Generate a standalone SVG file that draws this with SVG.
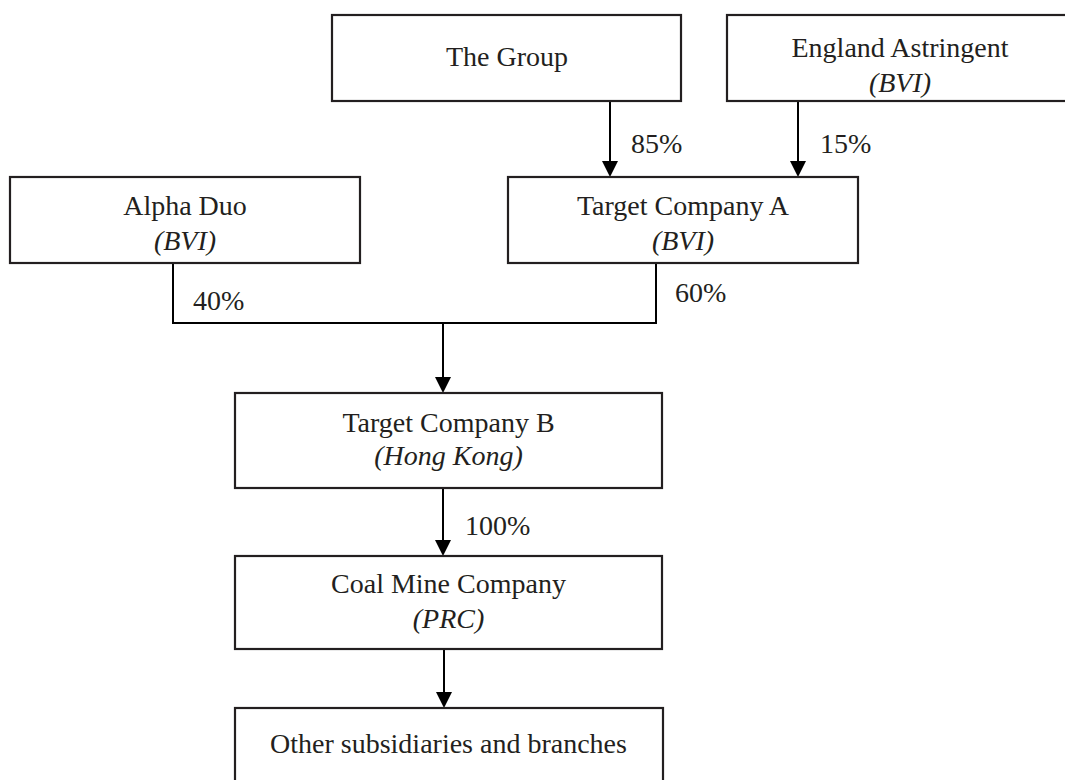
<svg xmlns="http://www.w3.org/2000/svg" width="1065" height="780" viewBox="0 0 1065 780">
<defs>
<style>
.box{fill:#fff;stroke:#231f20;stroke-width:2.2}
.t{font-family:"Liberation Serif","Times New Roman",serif;font-size:28px;fill:#231f20;text-anchor:middle}
.i{font-style:italic}
.l{font-family:"Liberation Serif","Times New Roman",serif;font-size:28px;fill:#231f20}
.c{fill:none;stroke:#000;stroke-width:2}
</style>
<marker id="ah" markerUnits="userSpaceOnUse" markerWidth="16" markerHeight="16" viewBox="0 0 16 16" refX="8" refY="16" orient="auto-start-reverse">
<path d="M0,0 L16,0 L8,16 Z" fill="#000"/>
</marker>
</defs>
<rect width="1065" height="780" fill="#fff"/>
<g id="connectors">
<line class="c" x1="610" y1="101" x2="610" y2="161"/>
<path d="M602,161 L618,161 L610,177 Z" fill="#000"/>
<line class="c" x1="798" y1="101" x2="798" y2="161"/>
<path d="M790,161 L806,161 L798,177 Z" fill="#000"/>
<path class="c" d="M173,263 V323 H656 V263"/>
<line class="c" x1="443" y1="323" x2="443" y2="377"/>
<path d="M435,377 L451,377 L443,393 Z" fill="#000"/>
<line class="c" x1="443" y1="488" x2="443" y2="540"/>
<path d="M435,540 L451,540 L443,556 Z" fill="#000"/>
<line class="c" x1="444" y1="649" x2="444" y2="692"/>
<path d="M436,692 L452,692 L444,708 Z" fill="#000"/>
<text class="l" x="631" y="153">85%</text>
<text class="l" x="820" y="153">15%</text>
<text class="l" x="193" y="310">40%</text>
<text class="l" x="675" y="302">60%</text>
<text class="l" x="465" y="535">100%</text>
</g>
<g id="the-group">
<rect class="box" x="332" y="15" width="349" height="86"/>
<text class="t" x="507" y="66">The Group</text>
</g>
<g id="england-astringent">
<rect class="box" x="727" y="15" width="350" height="86"/>
<text class="t" x="900" y="57">England Astringent</text>
<text class="t i" x="900" y="92">(BVI)</text>
</g>
<g id="alpha-duo">
<rect class="box" x="10" y="177" width="350" height="86"/>
<text class="t" x="185" y="215">Alpha Duo</text>
<text class="t i" x="185" y="250">(BVI)</text>
</g>
<g id="target-a">
<rect class="box" x="508" y="177" width="350" height="86"/>
<text class="t" x="683" y="215">Target Company A</text>
<text class="t i" x="683" y="250">(BVI)</text>
</g>
<g id="target-b">
<rect class="box" x="235" y="393" width="427" height="95"/>
<text class="t" x="448.5" y="432">Target Company B</text>
<text class="t i" x="448.5" y="465">(Hong Kong)</text>
</g>
<g id="coal-mine">
<rect class="box" x="235" y="556" width="427" height="93"/>
<text class="t" x="448.5" y="593">Coal Mine Company</text>
<text class="t i" x="448.5" y="628">(PRC)</text>
</g>
<g id="other">
<rect class="box" x="235" y="708" width="428" height="90"/>
<text class="t" x="448.5" y="753">Other subsidiaries and branches</text>
</g>
</svg>
